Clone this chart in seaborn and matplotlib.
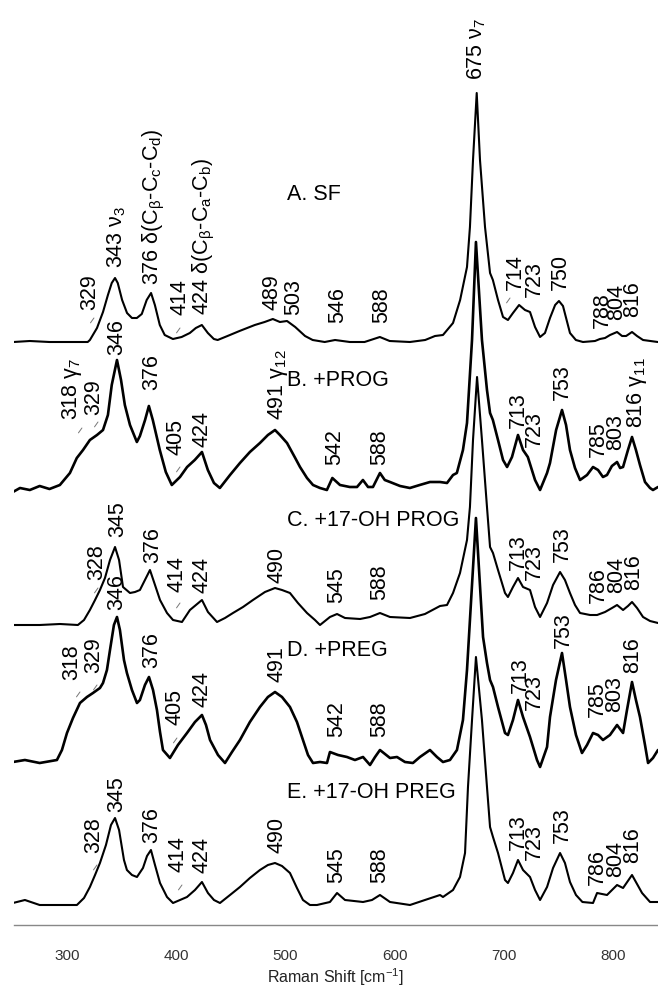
import pandas as pd
import matplotlib
matplotlib.use('Agg')
import matplotlib.pyplot as plt
import seaborn as sns

# Raman spectra: (shift in cm-1, intensity above own baseline)
sf = [(251, 0), (266, 1), (284, 0), (303, 0), (319, 0), (321, 2), (327.5, 14), (333, 30), (337.5, 47),
      (341, 59), (344, 64), (346.5, 59), (350.5, 42), (355, 29), (359.5, 24), (364, 24), (368.5, 28),
      (373, 42), (377, 49), (380.5, 37), (385, 17), (389.5, 7), (397, 3), (405, 5), (412.5, 9), (418, 14),
      (423.5, 17), (429, 9), (434.5, 3), (438, 2), (447, 6), (458, 11), (472, 17), (481, 20), (488.5, 23),
      (495, 20), (501.5, 21), (509, 15), (518, 6), (525, 2), (536, 0), (545.5, 2), (559, 0), (572.5, 0),
      (586.5, 5), (595.5, 1), (614, 0), (628, 2), (637, 6), (644.3, 7), (653.5, 19), (660, 42), (666.3, 75),
      (669, 115), (671.8, 182), (675.2, 249), (678.2, 182), (682.8, 115), (687.4, 69), (690, 62),
      (694.7, 42), (699.3, 25), (703.8, 22), (708.4, 29), (714, 37), (719.4, 32), (724, 30), (728.6, 15),
      (733.2, 5), (737.7, 9), (742.3, 24), (747, 37), (750.5, 41), (754.2, 36), (760.6, 9), (766, 2),
      (772.5, 0), (783.5, 1), (788, 3), (792.7, 4), (797.3, 7), (803.7, 10), (808.3, 6), (812, 6),
      (817.4, 10), (822, 6), (827.5, 2), (841, 0)]

prog = [(250.5, -2), (257, 2), (266, 0), (275, 4), (284, 1), (293.5, 5), (302.7, 17), (309, 32),
        (314.7, 40), (321, 50), (327.5, 55), (333, 60), (337.5, 75), (341, 105), (345.8, 130), (349.5, 110),
        (353, 85), (357.7, 65), (364, 48), (366.8, 54), (371.5, 70), (375, 84), (378.6, 70), (385, 40),
        (390.5, 18), (396, 5), (403.5, 13), (410, 23), (417, 30), (423.6, 38), (429, 20), (434.6, 7),
        (440, 2), (449.3, 15), (458.4, 27), (467.5, 38), (476.7, 47), (484, 55), (490.5, 60), (495, 55),
        (501.5, 47), (509, 32), (513.4, 23), (519.8, 12), (525.3, 5), (531.7, 2), (538, 0), (543, 12),
        (550, 5), (559, 3), (565.6, 3), (571, 10), (575.7, 3), (580.2, 3), (586.6, 17), (591, 10),
        (595.8, 8), (605, 4), (614, 2), (623, 5), (632.4, 8), (641.6, 8), (648, 7), (653.5, 15), (657, 17),
        (662.6, 40), (666.3, 67), (670.9, 150), (674.5, 248), (680, 150), (684.6, 100), (687.4, 77),
        (690, 70), (694.7, 50), (699.3, 30), (703, 23), (707.5, 33), (713, 55), (717.6, 40), (722, 33),
        (728.6, 10), (733.2, 0), (739.6, 17), (742.3, 27), (747.9, 60), (753.3, 80), (757, 65), (760.6, 40),
        (765.2, 22), (769.8, 10), (776.2, 15), (781.7, 23), (786.3, 20), (790.8, 13), (794.5, 15), (799, 24),
        (803.7, 28), (806.5, 22), (809.2, 23), (813.7, 40), (817.4, 53), (821, 40), (824.7, 25),
        (829.3, 8), (833.9, 2), (836.6, 0), (841.2, 3)]

oh_prog = [(250.5, -2), (275, -2), (293.6, -1), (310, -2), (315.6, 3), (321, 13), (325.7, 23), (330.2, 33),
           (334.8, 45), (339.4, 63), (344, 76), (347.7, 63), (351.3, 36), (357.7, 30), (362.3, 31),
           (366.8, 33), (371.4, 43), (376, 53), (379.7, 41), (385.2, 23), (391.6, 10), (397.1, 3),
           (405.3, 1), (412.6, 13), (418.1, 18), (423.6, 23), (429.1, 11), (437.4, 1), (444.7, 5), (452, 10),
           (461.2, 16), (470.3, 23), (481.3, 31), (490.5, 35), (496.9, 33), (504.2, 30), (511.5, 20),
           (519.8, 10), (527.1, 3), (531.7, -2), (540.8, 6), (547.3, 9), (554.6, 5), (568.4, 4), (577.5, 6),
           (586.6, 10), (595.8, 6), (614.1, 5), (627.8, 9), (641.6, 17), (648, 18), (653.5, 30), (659.9, 50),
           (666.3, 83), (669, 116), (671.8, 183), (675.5, 246), (680, 183), (684.6, 116), (687.4, 76),
           (690.1, 70), (694.7, 53), (701.1, 30), (703.8, 26), (708.4, 36), (713, 45), (717.6, 36), (724, 33),
           (728.6, 16), (733.2, 6), (739.6, 20), (745.1, 38), (751.5, 51), (756, 43), (760.6, 30),
           (765.2, 18), (769.8, 10), (779, 8), (785.4, 8), (792.7, 11), (799.1, 15), (803.7, 18), (809.2, 13),
           (813.7, 17), (817.4, 21), (822, 15), (827.5, 6), (833.9, 2), (841.2, 0)]

preg = [(250.5, 0), (261.5, 2), (275, -1), (290.8, 2), (295.4, 12), (300, 29), (305.5, 44), (311.9, 59),
        (318.3, 65), (323.8, 69), (330.2, 74), (333, 79), (336.6, 92), (339.4, 112), (343, 137),
        (345.8, 145), (348.5, 132), (352.2, 102), (354.9, 89), (359.5, 72), (364.1, 59), (366.8, 62),
        (371.4, 77), (375.1, 85), (378.8, 72), (382.4, 52), (385.2, 30), (387.9, 12), (394.3, 4),
        (401.6, 17), (409.9, 29), (417.2, 40), (423.6, 47), (427.3, 37), (431, 22), (438.3, 7), (444.7, -1),
        (451.1, 10), (458.4, 22), (467.5, 40), (476.7, 55), (484, 65), (490.5, 70), (496.9, 65),
        (504.2, 55), (510.6, 40), (516.1, 22), (520.7, 7), (525.3, -1), (531.7, 0), (538.1, -1),
        (540.8, 10), (548.2, 7), (556.4, 5), (563.7, 2), (571.1, 5), (577.5, -3), (582.1, 5), (586.6, 12),
        (595.8, 4), (602.2, 5), (609.5, 0), (616.8, -1), (623.2, 5), (632.4, 12), (638.8, 5), (644.3, 0),
        (650.7, 2), (657.1, 12), (662.6, 42), (666.3, 92), (669, 142), (674.5, 244), (681, 125),
        (684.6, 99), (687.4, 82), (690.1, 75), (694.7, 55), (701.1, 29), (703.8, 27), (708.4, 42), (713, 62),
        (717.6, 45), (724, 25), (730.4, 2), (733.2, -5), (739.6, 15), (742.3, 45), (747.8, 82), (753.3, 109),
        (757, 82), (760.6, 55), (766.1, 27), (771.6, 9), (776.2, 17), (781.7, 29), (786.3, 27), (790.8, 22),
        (797.2, 27), (803.7, 37), (809.2, 29), (812.8, 52), (817.4, 80), (821, 62), (824.7, 45),
        (829.3, 17), (832.1, -1), (836.6, 4), (841.2, 12)]

oh_preg = [(250.5, 0), (261.5, 3), (275, -2), (293.6, -2), (309.1, -2), (315.6, 5), (321, 16), (325.7, 28),
           (330.2, 40), (335.7, 58), (340.3, 78), (344, 85), (347.7, 73), (352.2, 43), (354.9, 33),
           (359.5, 28), (364.1, 26), (369.6, 35), (373.3, 47), (376.9, 53), (380.6, 38), (385.2, 20),
           (391.6, 6), (397.1, 0), (403.5, 3), (409.9, 6), (417.2, 13), (423.6, 21), (429.1, 10), (434.6, 3),
           (440.1, 0), (449.3, 8), (458.4, 16), (467.5, 25), (476.7, 33), (484, 38), (490.5, 40), (496.9, 37),
           (504.2, 30), (510.6, 15), (516.1, 3), (522.5, -2), (528.9, -2), (540.8, 1), (547.3, 10),
           (554.6, 3), (571.1, 1), (579.3, 3), (586.6, 8), (595.8, 1), (614.1, -2), (627.8, 3), (641.6, 8),
           (644.3, 6), (653.5, 13), (659.9, 26), (664.5, 50), (667.2, 116), (670.9, 183), (674.5, 246),
           (680, 183), (684.6, 116), (687.4, 76), (690.1, 66), (694.7, 50), (701.1, 23), (703.8, 20),
           (708.4, 30), (713, 43), (717.6, 33), (724, 26), (728.6, 13), (733.2, 3), (739.6, 16), (745.1, 35),
           (751.5, 50), (756, 40), (760.6, 21), (766.1, 8), (772, 1), (781.7, 0), (785.4, 10), (794.5, 8),
           (803.7, 18), (809.2, 15), (817.4, 28), (826.6, 10), (833.9, 1), (841.2, 1)]

samples = ['A. SF', 'B. +PROG', 'C. +17-OH PROG', 'D. +PREG', 'E. +17-OH PREG']
spectra = [sf, prog, oh_prog, preg, oh_preg]
offsets = [583, 435, 302, 163, 22]

D1 = r'376 $\delta$(C$_\beta$-C$_c$-C$_d$)'
D2 = r'424 $\delta$(C$_\beta$-C$_a$-C$_b$)'

# peak labels: (text, shift of label centre, height of label bottom above baseline)
labels_sf = [('329', 321, 32), (r'343 $\nu_3$', 345.8, 74), (D1, 379.7, 57), ('414', 403.5, 27),
             (D2, 425.5, 27), ('489', 487.7, 32), ('503', 507.9, 27), ('546', 548.2, 19),
             ('588', 588.5, 19), (r'675 $\nu_7$', 675.5, 262), ('714', 710.3, 52), ('723', 727.7, 45),
             ('750', 751.5, 52), ('788', 789.9, 14), ('804', 803.7, 22), ('816', 818.3, 25)]
labels_prog = [(r'318 $\gamma_7$', 304.6, 70), ('329', 324.7, 75), ('346', 345.8, 135), ('376', 377.8, 100),
               ('405', 399.8, 35), ('424', 423.6, 43), (r'491 $\gamma_{12}$', 493.2, 70), ('542', 545.4, 25),
               ('588', 586.6, 25), ('713', 713, 62), ('723', 727.7, 43), ('753', 753.3, 90),
               ('785', 786.3, 33), ('803', 802.7, 40), (r'816 $\gamma_{11}$', 821.9, 62)]
labels_oh_prog = [('328', 327.5, 43), ('345', 346.7, 86), ('376', 378.8, 60), ('414', 400.7, 31),
                  ('424', 423.6, 30), ('490', 492.3, 40), ('545', 547.3, 20), ('588', 586.6, 23),
                  ('713', 713, 53), ('723', 727.7, 43), ('753', 753.3, 61), ('786', 786.3, 20),
                  ('804', 803.7, 30), ('816', 819.2, 33)]
labels_preg = [('318', 304.6, 82), ('329', 324.7, 89), ('346', 345.8, 152), ('376', 377.8, 94),
               ('405', 398.9, 37), ('424', 423.6, 55), ('491', 492.3, 80), ('542', 547.3, 25),
               ('588', 586.6, 25), ('713', 714.8, 69), ('723', 727.7, 52), ('753', 754.2, 114),
               ('785', 785.4, 45), ('803', 801.8, 50), ('816', 818.3, 89)]
labels_oh_preg = [('328', 324.7, 50), ('345', 345.8, 91), ('376', 377.8, 60), ('414', 401.6, 31),
                  ('424', 423.6, 30), ('490', 492.3, 50), ('545', 547.3, 20), ('588', 586.6, 20),
                  ('713', 713, 53), ('723', 727.7, 43), ('753', 753.3, 60), ('786', 785.4, 18),
                  ('804', 802.7, 26), ('816', 818.3, 40)]
all_labels = [labels_sf, labels_prog, labels_oh_prog, labels_preg, labels_oh_preg]

# little pointer marks for shoulders: (shift, height above baseline)
marks = [[(324.7, 24), (403.5, 14), (705.7, 44)],
         [(313.7, 62), (328.4, 68), (403.5, 23)],
         [(328.4, 35), (403.5, 20)],
         [(311.9, 70), (327.5, 77), (400.7, 24)],
         [(327.5, 38), (405.3, 18)]]
name_height = [148, 110, 103, 112, 111]

sns.set_style('white')
plt.rcParams['font.family'] = ['Liberation Sans', 'DejaVu Sans']
plt.rcParams['mathtext.fontset'] = 'custom'
plt.rcParams['mathtext.rm'] = 'Liberation Sans'
plt.rcParams['mathtext.it'] = 'Liberation Sans:italic'
plt.rcParams['mathtext.default'] = 'regular'

rows = []
for name, spec, off in zip(samples, spectra, offsets):
    for x, y in spec:
        rows.append({'sample': name, 'shift': x, 'y': y + off})
df = pd.DataFrame(rows)

fig = plt.figure(figsize=(6.58, 9.89), dpi=100)
ax = fig.add_axes([14 / 658, 64 / 989, 644 / 658, 915 / 989])

# the PROG and PREG spectra are noisier, so they read a bit heavier
widths = {'A. SF': 1.5, 'B. +PROG': 1.9, 'C. +17-OH PROG': 1.5, 'D. +PREG': 1.9, 'E. +17-OH PREG': 1.5}
for name in samples:
    sns.lineplot(data=df[df['sample'] == name], x='shift', y='y', color='black', estimator=None,
                 sort=False, legend=False, linewidth=widths[name], ax=ax)

fs = 15.5
for name, off, labs, mk, nh in zip(samples, offsets, all_labels, marks, name_height):
    for txt, x, h in labs:
        ax.text(x, off + h, txt, rotation=90, ha='center', va='bottom', fontsize=fs, color='black')
    for x, h in mk:
        ax.annotate('', xy=(x, off + h), xytext=(-2.5, -3.5), textcoords='offset points',
                    arrowprops=dict(arrowstyle='-', color='#777777', lw=0.7, shrinkA=0, shrinkB=0))
    ax.text(501.5, off + nh, name, ha='left', va='center', fontsize=fs, color='black')

ax.set_xlim(251.5, 841.2)
ax.set_ylim(0, 915)
ax.set_xticks([300, 400, 500, 600, 700, 800])
ax.set_yticks([])
ax.set_xlabel('Raman Shift [cm$^{-1}$]', fontsize=11.5, color='#222222', labelpad=3)
ax.set_ylabel('')
ax.tick_params(axis='x', direction='out', length=11, width=0.9, color='#888888', pad=6,
               labelsize=11, labelcolor='#333333')
for s in ['left', 'top', 'right']:
    ax.spines[s].set_visible(False)
ax.spines['bottom'].set_color('#888888')
ax.spines['bottom'].set_linewidth(1.0)

fig.savefig('out.png', dpi=100)
